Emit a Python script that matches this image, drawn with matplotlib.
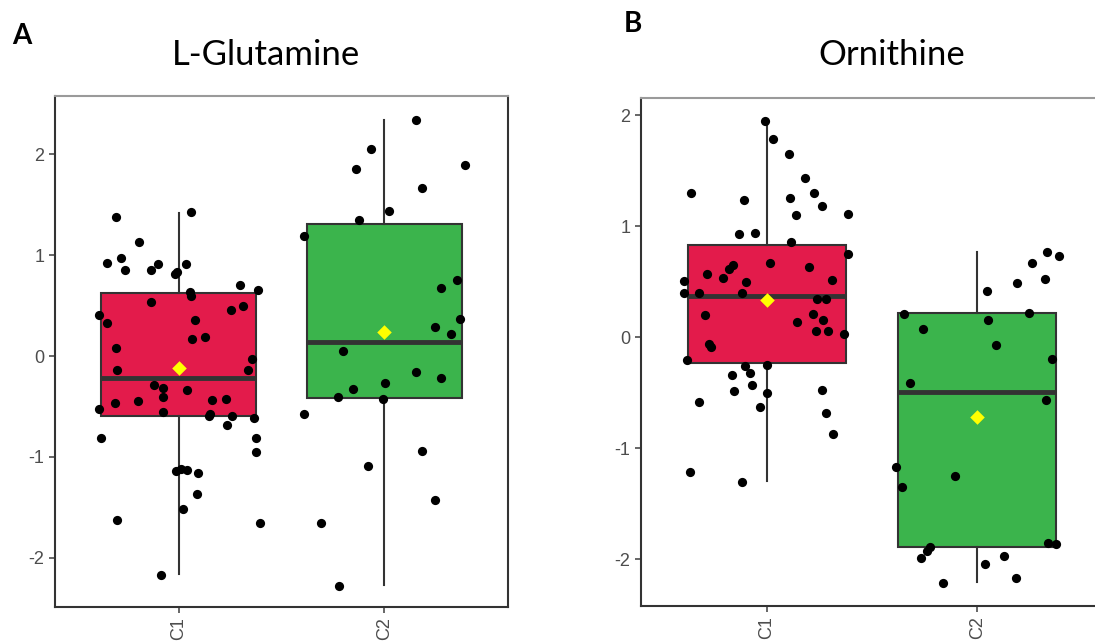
import matplotlib
matplotlib.use('Agg')
import matplotlib.pyplot as plt

groups = ['C1', 'C2']
colors = ['#E31B4B', '#3BB44C']

# ---- panel A: L-Glutamine
gl_c1_y = [1.38, 1.43, 1.13, 0.92, 0.97, 0.85, 0.85, 0.91, 0.81, 0.83, 0.91, 0.70, 0.66, 0.635,
           0.60, 0.54, 0.41, 0.33, 0.46, 0.50, 0.36, 0.17, 0.19, 0.076, -0.03, -0.14, -0.14,
           -0.29, -0.32, -0.34, -0.41, -0.45, -0.47, -0.53, -0.56, -0.44, -0.43, -0.58, -0.60,
           -0.60, -0.68, -0.61, -0.81, -0.81, -0.95, -1.14, -1.12, -1.13, -1.16, -1.37, -1.52,
           -1.63, -1.66, -2.17]
gl_c1_jit = [-0.303, 0.059, -0.191, -0.348, -0.279, -0.258, -0.135, -0.101, -0.018, -0.005, 0.035,
             0.298, 0.386, 0.056, 0.059, -0.133, -0.386, -0.348, 0.255, 0.314, 0.082, 0.066, 0.131,
             -0.306, 0.357, -0.298, 0.337, -0.117, -0.074, 0.042, -0.074, -0.196, -0.308, -0.385,
             -0.075, 0.165, 0.231, 0.155, 0.147, 0.258, 0.237, 0.367, -0.375, 0.378, 0.376, -0.01,
             0.014, 0.04, 0.096, 0.09, 0.024, -0.297, 0.396, -0.087]
gl_c2_y = [2.34, 2.05, 1.86, 1.90, 1.665, 1.44, 1.35, 1.19, 0.755, 0.68, 0.37, 0.285, 0.22, 0.05,
           -0.16, -0.215, -0.27, -0.33, -0.41, -0.43, -0.58, -0.94, -1.09, -1.43, -1.66, -2.28]
gl_c2_jit = [0.154, -0.064, -0.139, 0.389, 0.181, 0.021, -0.124, -0.393, 0.353, 0.274, 0.367, 0.244,
             0.325, -0.203, 0.152, 0.274, 0.005, -0.152, -0.224, -0.008, -0.389, 0.184, -0.079,
             0.244, -0.309, -0.221]
# box stats: whislo, q1, med, q3, whishi, mean
gl_stats = [(-2.16, -0.60, -0.215, 0.63, 1.42, -0.116),
            (-2.27, -0.42, 0.14, 1.31, 2.34, 0.24)]

# ---- panel B: Ornithine
or_c1_y = [1.95, 1.79, 1.65, 1.44, 1.30, 1.30, 1.24, 1.26, 1.18, 1.10, 1.11, 0.93, 0.94, 0.86,
           0.75, 0.67, 0.635, 0.65, 0.62, 0.57, 0.54, 0.51, 0.50, 0.515, 0.40, 0.40, 0.40, 0.35,
           0.35, 0.20, 0.21, 0.16, 0.137, 0.06, 0.06, 0.035, -0.06, -0.09, -0.20, -0.25, -0.26,
           -0.32, -0.34, -0.43, -0.48, -0.50, -0.47, -0.58, -0.63, -0.68, -0.87, -1.21, -1.30]
or_c1_jit = [-0.008, 0.03, 0.103, 0.18, -0.359, 0.226, -0.111, 0.112, 0.26, 0.139, 0.384, -0.131,
             -0.055, 0.115, 0.384, 0.013, 0.2, -0.161, -0.18, -0.284, -0.207, -0.392, -0.10, 0.31,
             -0.395, -0.324, -0.12, 0.24, 0.281, -0.296, 0.221, 0.268, 0.142, 0.234, 0.289, 0.366,
             -0.273, -0.267, -0.378, 0.0, -0.106, -0.078, -0.166, -0.071, -0.154, 0.0, 0.26,
             -0.324, -0.033, 0.28, 0.314, -0.365, -0.12]
or_c2_y = [0.77, 0.73, 0.67, 0.49, 0.53, 0.415, 0.21, 0.22, 0.16, 0.08, -0.07, -0.19, -0.41, -0.56,
           -1.17, -1.245, -1.35, -1.89, -1.92, -1.85, -1.86, -1.99, -1.97, -2.04, -2.17, -2.21]
or_c2_jit = [0.333, 0.39, 0.259, 0.19, 0.324, 0.047, -0.348, 0.245, 0.052, -0.258, 0.091, 0.357,
             -0.319, 0.327, -0.384, -0.103, -0.359, -0.226, -0.24, 0.336, 0.376, -0.265, 0.129,
             0.035, 0.185, -0.163]
or_stats = [(-1.29, -0.23, 0.374, 0.833, 1.94, 0.338),
            (-2.205, -1.885, -0.488, 0.218, 0.77, -0.72)]

panels = [
    ([0.0502, 0.0575, 0.4137, 0.7934], (-2.49, 2.58), [-2, -1, 0, 1, 2],
     [(gl_c1_jit, gl_c1_y), (gl_c2_jit, gl_c2_y)], gl_stats),
    ([0.5851, 0.059, 0.4225, 0.7884], (-2.42, 2.155), [-2, -1, 0, 1, 2],
     [(or_c1_jit, or_c1_y), (or_c2_jit, or_c2_y)], or_stats),
]

fig = plt.figure(figsize=(10.95, 6.44), dpi=100)
for rect, ylim, yticks, pts, stats in panels:
    ax = fig.add_axes(rect)
    bx = []
    for i, s in enumerate(stats):
        bx.append(dict(whislo=s[0], q1=s[1], med=s[2], q3=s[3], whishi=s[4], fliers=[]))
    art = ax.bxp(bx, positions=[1, 2], widths=0.75, patch_artist=True, showcaps=False,
                 boxprops=dict(edgecolor='#333333', linewidth=1.5),
                 whiskerprops=dict(color='#333333', linewidth=1.5),
                 medianprops=dict(color='#333333', linewidth=3.5))
    for patch, c in zip(art['boxes'], colors):
        patch.set_facecolor(c)
    for i, (jit, yv) in enumerate(pts):
        ax.scatter([i + 1 + j for j in jit], yv, s=44, color='black', zorder=4, linewidths=0)
    ax.scatter([1, 2], [s[5] for s in stats], marker='D', s=55, color='#FFFF00', zorder=5,
               linewidths=0)
    ax.set_xlim(0.4, 2.6)
    ax.set_ylim(*ylim)
    ax.set_yticks(yticks)
    ax.set_yticklabels([str(t) for t in yticks])
    ax.set_xticks([1, 2])
    ax.set_xticklabels(groups, rotation=90)
    ax.tick_params(colors='#4D4D4D', labelsize=13, length=4, width=1.2)
    for k in ['left', 'bottom', 'right']:
        ax.spines[k].set_color('#333333')
        ax.spines[k].set_linewidth(1.5)
    ax.spines['top'].set_color('#9a9a9a')
    ax.spines['top'].set_linewidth(1.5)
    for lab in ax.get_xticklabels() + ax.get_yticklabels():
        lab.set_family('Liberation Sans')

fig.text(266 / 1095, 1 - 55 / 644, 'L-Glutamine', ha='center', va='center',
         fontsize=25, family='Lato')
fig.text(892 / 1095, 1 - 55 / 644, 'Ornithine', ha='center', va='center',
         fontsize=25, family='Lato')
fig.text(12 / 1095, 1 - 36 / 644, 'A', ha='left', va='center', fontsize=20,
         fontweight='bold', family='Lato')
fig.text(624 / 1095, 1 - 24 / 644, 'B', ha='left', va='center', fontsize=20,
         fontweight='bold', family='Lato')

fig.savefig('out.png', dpi=100)
